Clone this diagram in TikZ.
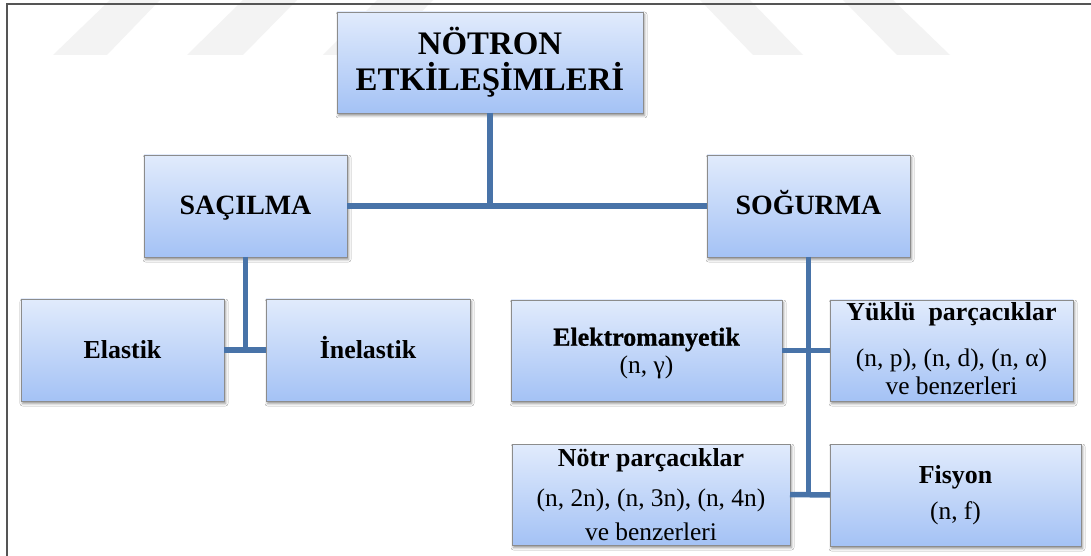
\documentclass[tikz,border=0pt]{standalone}
\usepackage{fontspec}
\setmainfont{Liberation Serif}
\newfontface\heavyface{Liberation Serif Bold}[FakeBold=0.8]
\usetikzlibrary{shadows,shadows.blur}
\definecolor{boxtop}{RGB}{225,235,252}
\definecolor{boxbot}{RGB}{164,194,245}
\definecolor{connblue}{RGB}{72,115,168}
\definecolor{framegray}{RGB}{85,85,85}
\definecolor{wmark}{RGB}{243,243,243}
\newcommand\bxc[3]{\vbox to #2bp{\hsize=#1bp\offinterlineskip #3\vss}}
\newcommand\tline[2]{\vskip#1bp\hbox to\hsize{\hss\smash{#2}\hss}}
\newcommand\ttl{\fontsize{33}{36}\selectfont\bfseries}
\newcommand\tsb{\fontsize{28}{30}\selectfont\bfseries}
\newcommand\tb{\fontsize{26}{30}\selectfont\bfseries}
\newcommand\thv{\fontsize{26}{30}\selectfont\heavyface}
\newcommand\tr{\fontsize{25.5}{30}\selectfont}
\tikzset{
  box/.style={draw=black!45, line width=0.8bp, top color=boxtop, bottom color=boxbot,
    inner sep=0pt, outer sep=0pt,
    blur shadow={shadow xshift=1.5bp, shadow yshift=-2.5bp, shadow blur radius=2.5bp, shadow opacity=45}},
  conn/.style={draw=connblue, line width=5.5bp},
  strip/.style={fill=wmark, draw=none},
}
\begin{document}
\begin{tikzpicture}[x=1bp,y=-1bp]
\useasboundingbox (0,0) rectangle (1091,556);
\fill[white] (0,0) rectangle (1091,556);
% watermark
\fill[strip] (110,0) -- (160,0) -- (107,55) -- (53,55) -- cycle;
\fill[strip] (243,0) -- (297,0) -- (243,55) -- (187,55) -- cycle;
\fill[strip] (377,0) -- (433,0) -- (380,55) -- (323,55) -- cycle;
\fill[strip] (700,0) -- (750,0) -- (803,55) -- (753,55) -- cycle;
\fill[strip] (843,0) -- (893,0) -- (950,55) -- (897,55) -- cycle;
% frame
\draw[framegray, line width=1.4bp] (7,556) -- (7,4) -- (1091,4);
% boxes
\node[box] (nt) at (490,62.5) {\bxc{306}{101}{\tline{43}{\ttl NÖTRON}\tline{35.7}{\ttl ETKİLEŞİMLERİ}}};
\node[box] (sac) at (245.5,206) {\bxc{203}{102}{\tline{60}{\tsb SAÇILMA}}};
\node[box] (sog) at (808.5,206) {\bxc{203}{102}{\tline{60}{\tsb SOĞURMA}}};
\node[box] (el) at (122.5,350) {\bxc{203}{102}{\tline{59.3}{\tb Elastik}}};
\node[box] (inel) at (368,350) {\bxc{204}{102}{\tline{59.3}{\tb İnelastik}}};
\node[box] (em) at (646.5,350.5) {\bxc{271}{101}{\tline{45.7}{\thv Elektromanyetik}\tline{27.3}{\tr (n, γ)}}};
\node[box] (yk) at (951.5,350.5) {\bxc{243}{101}{\tline{20.7}{\tb Yüklü\ \ parçacıklar}\tline{45.8}{\tr (n, p), (n, d), (n, α)}\tline{27.5}{\tr ve benzerleri}}};
\node[box] (nr) at (651,494.5) {\bxc{278}{101}{\tline{22.7}{\tb Nötr parçacıklar}\tline{40}{\tr (n, 2n), (n, 3n), (n, 4n)}\tline{33.3}{\tr ve benzerleri}}};
\node[box] (fis) at (955.5,495) {\bxc{251}{102}{\tline{39}{\tb Fisyon}\tline{36.5}{\tr (n, f)}}};
% connectors
\draw[conn] (nt.south) -- (nt.south |- sac.east);
\draw[conn] (sac.east) -- (sog.west);
\draw[conn] (sac.south) -- (sac.south |- el.east);
\draw[conn] (el.east) -- (inel.west);
\draw[conn] (sog.south) -- (sog.south |- nr.east);
\draw[conn] (em.east) -- (yk.west);
\draw[conn] (nr.east) -- (fis.west);
\end{tikzpicture}
\end{document}
